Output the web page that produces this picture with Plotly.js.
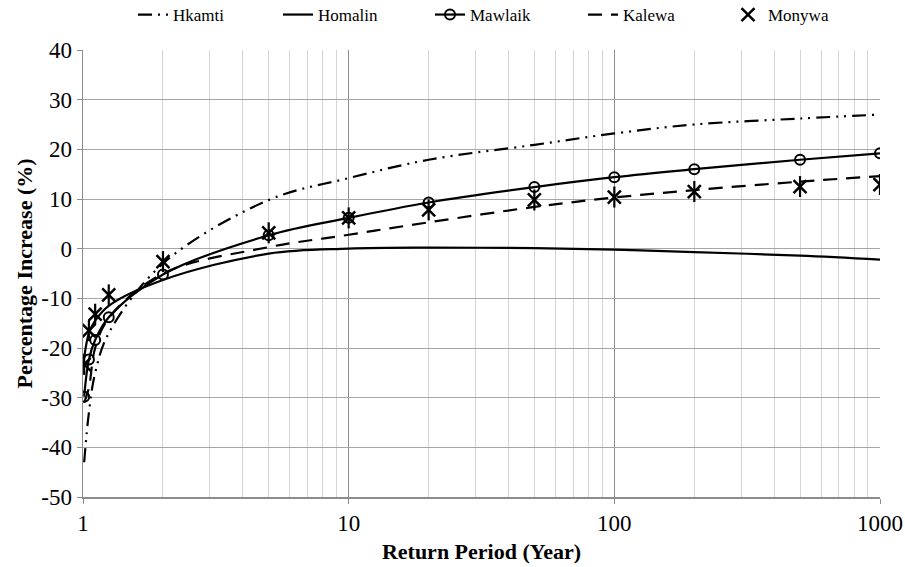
<!DOCTYPE html>
<html>
<head>
<meta charset="utf-8">
<script src="https://cdn.plot.ly/plotly-3.0.1.min.js"></script>
<style>html,body{margin:0;padding:0;background:#fff;} #chart{width:905px;height:567px;}</style>
</head>
<body>
<div id="chart"></div>
<script>
const returnPeriods = [1.0101, 1.0526, 1.1111, 1.25, 2, 5, 10, 20, 50, 100, 200, 500, 1000];
const hkamti  = [-43, -33, -25, -17, -3, 9.8, 14.2, 17.9, 20.9, 23.2, 25.0, 26.2, 27.0];
const homalin = [-22, -17, -14.5, -11.5, -6.3, -1.0, 0, 0.2, 0.1, -0.2, -0.7, -1.4, -2.2];
const mawlaik = [-29.8, -22.3, -18.4, -13.8, -5.2, 2.7, 6.2, 9.3, 12.4, 14.4, 16.0, 17.9, 19.2];
const kalewa  = [-31, -28, -20, -14, -5, 0.3, 2.8, 5.3, 8.4, 10.3, 11.8, 13.5, 14.6];
const monywa  = [-23.3, -16.5, -13.2, -9.3, -2.6, 3.2, 6.2, 7.8, 9.8, 10.4, 11.5, 12.5, 12.9];
const xTicks = [1, 10, 100, 1000];
const xTickText = ['1', '10', '100', '1000'];
const yTicks = [-50, -40, -30, -20, -10, 0, 10, 20, 30, 40];
const yTickText = ['-50', '-40', '-30', '-20', '-10', '0', '10', '20', '30', '40'];

const serif = 'Liberation Serif, Times New Roman, serif';
const traces = [
  {x: returnPeriods, y: hkamti, name: 'Hkamti', mode: 'lines', legend: 'legend',
   line: {color: '#000', width: 2.2, dash: '14px,6px,2px,6px,2px,6px', shape: 'spline', smoothing: 1}},
  {x: returnPeriods, y: homalin, name: 'Homalin', mode: 'lines', legend: 'legend2',
   line: {color: '#000', width: 2.2, shape: 'spline', smoothing: 1}},
  {x: returnPeriods, y: mawlaik, name: 'Mawlaik', mode: 'lines+markers', legend: 'legend3',
   line: {color: '#000', width: 2.2, shape: 'spline', smoothing: 1},
   marker: {symbol: 'circle-open', size: 10, color: '#000', line: {width: 2, color: '#000'}}},
  {x: returnPeriods, y: kalewa, name: 'Kalewa', mode: 'lines', legend: 'legend4',
   line: {color: '#000', width: 2.2, dash: '14px,9px', shape: 'spline', smoothing: 1}},
  {x: returnPeriods, y: monywa, name: 'Monywa', mode: 'markers', legend: 'legend5', legendgroup: 'mon',
   marker: {symbol: 'x-thin-open', size: 13, color: '#000', line: {width: 2.5, color: '#000'}}},
  {x: returnPeriods, y: monywa, name: 'Monywa', mode: 'markers', legend: 'legend5', legendgroup: 'mon', showlegend: false,
   marker: {symbol: 'line-ns-open', size: 15, color: '#000', line: {width: 2.2, color: '#000'}}}
];

function leg(px) {
  return {orientation: 'h', xref: 'container', yref: 'container', x: px / 905, xanchor: 'left',
          y: 1 - 15 / 567, yanchor: 'middle', font: {family: serif, size: 17}, bgcolor: 'rgba(0,0,0,0)'};
}

const layout = {
  width: 905, height: 567,
  margin: {l: 83, r: 25, t: 50, b: 70},
  paper_bgcolor: '#fff', plot_bgcolor: '#fff',
  font: {family: serif, color: '#000', size: 20},
  showlegend: true,
  legend: leg(133), legend2: leg(278), legend3: leg(430), legend4: leg(583), legend5: leg(728),
  xaxis: {
    type: 'log', range: [0, 3],
    tickvals: xTicks, ticktext: xTickText,
    showgrid: true, gridcolor: '#8c8c8c', gridwidth: 1,
    minor: {dtick: 'D1', showgrid: true, gridcolor: '#d4d4d4', gridwidth: 1, ticks: ''},
    showline: true, linecolor: '#8c8c8c', linewidth: 1.5,
    ticks: 'outside', ticklen: 5, tickcolor: '#8c8c8c',
    zeroline: false,
    tickfont: {family: serif, size: 23},
    title: {text: '<b>Return Period (Year)</b>', font: {family: serif, size: 22}, standoff: 8}
  },
  yaxis: {
    range: [-50, 40], tickvals: yTicks, ticktext: yTickText,
    showgrid: true, gridcolor: '#a6a6a6', gridwidth: 1,
    showline: true, linecolor: '#8c8c8c', linewidth: 1.5,
    ticks: 'outside', ticklen: 5, tickcolor: '#8c8c8c',
    zeroline: false,
    tickfont: {family: serif, size: 23},
    title: {text: '<b>Percentage Increase (%)</b>', font: {family: serif, size: 22}, standoff: 2}
  }
};

Plotly.newPlot('chart', traces, layout, {displayModeBar: false, staticPlot: true});
</script>
</body>
</html>
